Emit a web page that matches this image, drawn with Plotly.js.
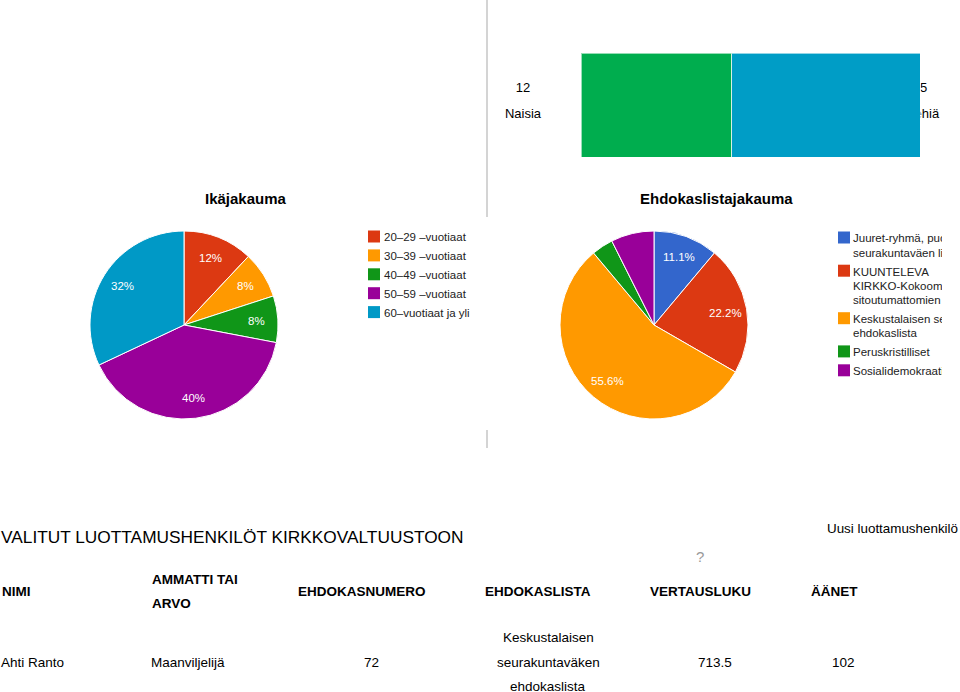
<!DOCTYPE html>
<html><head><meta charset="utf-8">
<script src="https://cdn.plot.ly/plotly-3.0.1.min.js"></script>
<style>html,body{margin:0;padding:0;background:#fff;overflow:hidden}#chart{width:960px;height:692px}</style>
</head><body><div id="chart"></div>
<script>
// ---------- data ----------
const genderLabels = ['Naisia', 'Miehiä'];
const genderCounts = [12, 15];
const genderColors = ['#00AD4E', '#009DC6'];

const ageTitle = 'Ikäjakauma';
const ageGroups = ['20–29 –vuotiaat', '30–39 –vuotiaat', '40–49 –vuotiaat', '50–59 –vuotiaat', '60–vuotiaat ja yli'];
const ageCounts = [3, 2, 2, 10, 8];
const ageColors = ['#DC3912', '#FF9900', '#109618', '#990099', '#0099C6'];

const listTitle = 'Ehdokaslistajakauma';
const listNames = [
  'Juuret-ryhmä, puolueisiin sitoutumattoman<br>seurakuntaväen lista',
  'KUUNTELEVA<br>KIRKKO-Kokoomuksen ja<br>sitoutumattomien lista',
  'Keskustalaisen seurakuntaväken<br>ehdokaslista',
  'Peruskristilliset',
  'Sosialidemokraatit'
];
const listCounts = [3, 6, 15, 1, 2];
const listColors = ['#3366CC', '#DC3912', '#FF9900', '#109618', '#990099'];

const tableTitle = 'VALITUT LUOTTAMUSHENKILÖT KIRKKOVALTUUSTOON';
const tableNote = 'Uusi luottamushenkilö';
const tableHint = '?';
const tableHeaders = ['NIMI', 'AMMATTI TAI<br>ARVO', 'EHDOKASNUMERO', 'EHDOKASLISTA', 'VERTAUSLUKU', 'ÄÄNET'];
const tableRow = ['Ahti Ranto', 'Maanviljelijä', '72', 'Keskustalaisen<br>seurakuntaväken<br>ehdokaslista', '713.5', '102'];

// ---------- layout helpers ----------
const W = 960, H = 692;
const FONT = 'Liberation Sans, Arial, Helvetica, sans-serif';
const px = x => x / W;
const py = y => 1 - y / H;
const annotations = [];
const shapes = [];
const traces = [];
function txt(x, y, text, o) {
  o = o || {};
  annotations.push({
    xref: 'paper', yref: 'paper', x: px(x), y: py(y), text: text, showarrow: false,
    xanchor: o.anchor || 'left', yanchor: 'middle', borderpad: 0,
    font: {family: FONT, size: o.size || 13, color: o.color || '#000', weight: o.weight || 'normal'}
  });
}
const axisOff = {visible: false, showgrid: false, zeroline: false, fixedrange: true};
const axes = {};

// ---------- bar (gender) ----------
const total = genderCounts.reduce((a, b) => a + b, 0);
const barLeftPx = 581, barRightPx = 920, barTopPx = 53.3, barBotPx = 157.3;
const upp = total / (barRightPx - barLeftPx);           // data units per pixel
const areaLeftPx = 480, areaRightPx = 960;
const xRange = [-(barLeftPx - areaLeftPx) * upp, total + (areaRightPx - barRightPx) * upp];
const labelGapUnits = 58 * upp;
const rowNumY = 0.5 - (88.5 - barTopPx) / (barBotPx - barTopPx);
const rowNameY = 0.5 - (114.5 - barTopPx) / (barBotPx - barTopPx);
axes.xaxis = Object.assign({domain: [px(areaLeftPx), px(areaRightPx)], range: xRange}, axisOff);
axes.yaxis = Object.assign({domain: [py(barBotPx), py(barTopPx)], range: [-0.5, 0.5]}, axisOff);
axes.xaxis2 = Object.assign({overlaying: 'x', range: xRange}, axisOff);
axes.yaxis2 = Object.assign({overlaying: 'y', range: [-0.5, 0.5]}, axisOff);

traces.push({
  type: 'scatter', mode: 'text', xaxis: 'x', yaxis: 'y', hoverinfo: 'skip',
  x: [-labelGapUnits, -labelGapUnits, total, total],
  y: [rowNumY, rowNameY, rowNumY, rowNameY],
  text: [String(genderCounts[0]), genderLabels[0], String(genderCounts[1]), genderLabels[1]],
  textposition: 'middle center',
  textfont: {family: FONT, size: 13, color: '#000'}
});
genderLabels.forEach((g, i) => {
  traces.push({
    type: 'bar', orientation: 'h', xaxis: 'x2', yaxis: 'y2', name: g,
    x: [genderCounts[i]], y: [0], width: 1, hoverinfo: 'skip',
    marker: {color: genderColors[i], line: {color: 'rgba(255,255,255,0.6)', width: 1}}
  });
});

// ---------- pies ----------
const pieTop = 231, pieBot = 419, R = (pieBot - pieTop) / 2;
function pie(labels, values, colors, leftPx, decimals, minShare) {
  const sum = values.reduce((a, b) => a + b, 0);
  traces.push({
    type: 'pie', labels: labels, values: values, sort: false, direction: 'clockwise', rotation: 0,
    marker: {colors: colors, line: {color: '#fff', width: 1}},
    textinfo: 'none', showlegend: false, hoverinfo: 'skip',
    domain: {x: [px(leftPx), px(leftPx + 2 * R)], y: [py(pieBot), py(pieTop)]}
  });
  // slice labels at 0.775 R along each slice's mid-angle (clockwise from 12 o'clock)
  const cx = leftPx + R, cy = pieTop + R;
  let cum = 0;
  values.forEach(v => {
    const share = v / sum;
    const a = 2 * Math.PI * (cum + share / 2);
    cum += share;
    if (share < minShare) return;
    txt(cx + 0.775 * R * Math.sin(a), cy - 0.775 * R * Math.cos(a) + 0.5,
        (share * 100).toFixed(decimals) + '%', {anchor: 'center', size: 11.5, color: '#fff'});
  });
}
pie(ageGroups, ageCounts, ageColors, 90, 0, 0.075);
pie(listNames.map(n => n.replace(/<br>/g, ' ')), listCounts, listColors, 560, 1, 0.075);

txt(245.7, 198, ageTitle, {anchor: 'center', size: 15, weight: 'bold'});
txt(716.7, 198, listTitle, {anchor: 'center', size: 15, weight: 'bold'});

// legends: swatches as shapes, texts in a clipped pixel-space subplot
function legend(n, names, colors, sqLeft, textLeft, firstY, clipLeft, clipRight) {
  const lineH = 14.3, gap = 4.6, top = 222, bottom = 392, textShift = 1.5;
  const xs = [], ys = [], ts = [];
  let y = firstY;
  names.forEach((name, i) => {
    const lines = name.split('<br>');
    shapes.push({type: 'rect', xref: 'paper', yref: 'paper', x0: px(sqLeft), x1: px(sqLeft + 12),
      y0: py(y - 0.5 + 6), y1: py(y - 0.5 - 6), fillcolor: colors[i], line: {width: 0}});
    lines.forEach((l, j) => { xs.push(textLeft); ys.push(y + j * lineH + textShift); ts.push(l); });
    y += lines.length * lineH + gap;
  });
  axes['xaxis' + n] = Object.assign({domain: [px(clipLeft), px(clipRight)], range: [clipLeft, clipRight], anchor: 'y' + n}, axisOff);
  axes['yaxis' + n] = Object.assign({domain: [py(bottom), py(top)], range: [bottom, top], anchor: 'x' + n}, axisOff);
  traces.push({type: 'scatter', mode: 'text', xaxis: 'x' + n, yaxis: 'y' + n, hoverinfo: 'skip',
    x: xs, y: ys, text: ts, textposition: 'middle right', cliponaxis: true,
    textfont: {family: FONT, size: 11.5, color: '#222'}});
}
legend(3, ageGroups, ageColors, 368, 384, 237, 360, 486);
legend(4, listNames, listColors, 838, 853, 238, 830, 942);

// page separators
shapes.push({type: 'line', xref: 'paper', yref: 'paper', x0: px(487), x1: px(487), y0: py(0), y1: py(217), line: {color: '#d4d4d4', width: 2}});
shapes.push({type: 'line', xref: 'paper', yref: 'paper', x0: px(487), x1: px(487), y0: py(430), y1: py(448), line: {color: '#d4d4d4', width: 2}});

// ---------- table ----------
txt(0, 537, tableTitle, {size: 17.3});
txt(826, 528, tableNote, {size: 13.4});
txt(699.5, 556, tableHint, {anchor: 'center', size: 15, color: '#999'});
const colLeft = [1, 151, 297, 484, 649, 810];
const rowCenter = [null, null, 371, 548, 714.5, 843];
const cellLineH = 24.5;
tableHeaders.forEach((h, i) => {
  const lines = h.split('<br>');
  lines.forEach((l, j) => txt(colLeft[i], 591.7 + (j - (lines.length - 1) / 2) * cellLineH, l, {size: 13.5, weight: 'bold'}));
});
tableRow.forEach((c, i) => {
  const lines = c.split('<br>');
  lines.forEach((l, j) => {
    const y = 662 + (j - (lines.length - 1) / 2) * cellLineH;
    if (rowCenter[i] === null) txt(colLeft[i] - 1, y, l, {size: 13.5});
    else txt(rowCenter[i], y, l, {size: 13.5, anchor: 'center'});
  });
});

const layout = Object.assign({
  width: W, height: H, margin: {l: 0, r: 0, t: 0, b: 0, pad: 0, autoexpand: false},
  paper_bgcolor: '#fff', plot_bgcolor: 'rgba(0,0,0,0)', showlegend: false,
  font: {family: FONT, color: '#000'},
  barmode: 'stack', bargap: 0,
  annotations: annotations, shapes: shapes
}, axes);
Plotly.newPlot('chart', traces, layout, {staticPlot: true, displayModeBar: false});
</script></body></html>
